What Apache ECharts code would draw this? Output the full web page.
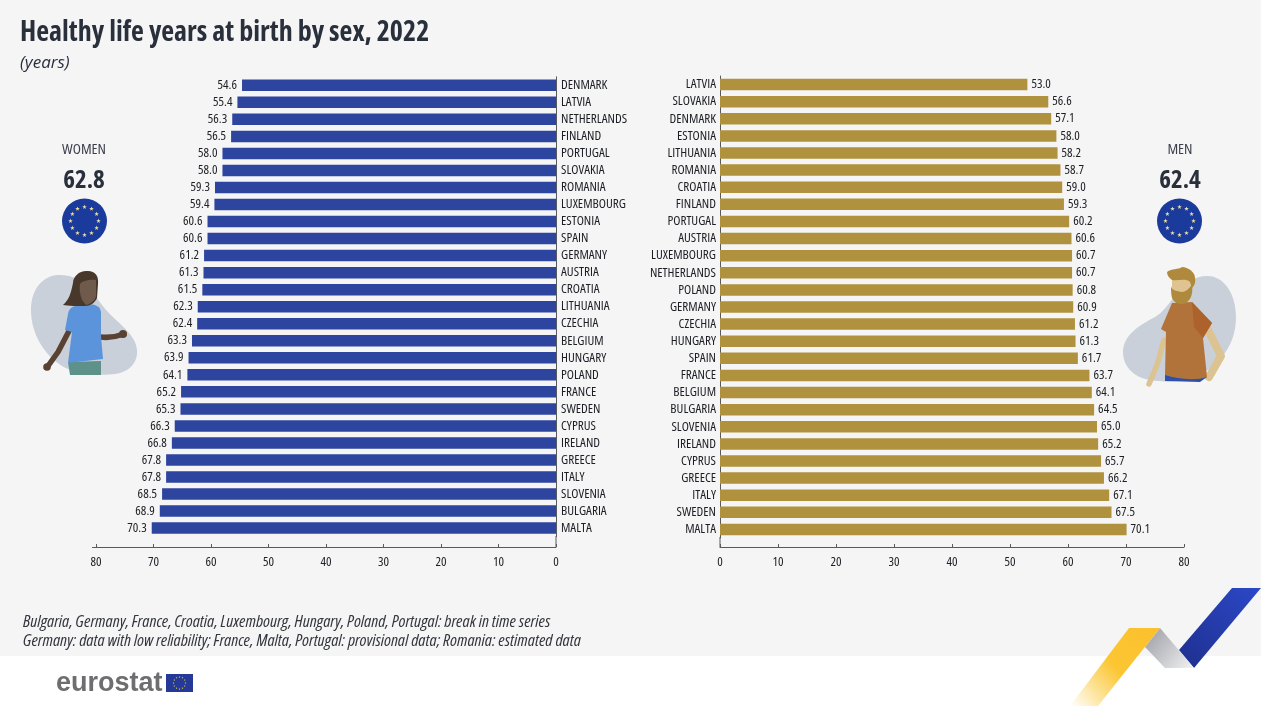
<!DOCTYPE html>
<html>
<head>
<meta charset="utf-8">
<title>Healthy life years at birth by sex, 2022</title>
<script src="https://cdn.jsdelivr.net/npm/echarts@6/dist/echarts.min.js"></script>
<style>
  html, body { margin: 0; padding: 0; background: #f5f5f6; }
  #chart { width: 1261px; height: 706px; }
</style>
</head>
<body>
<div id="chart"></div>
<script>
var womenCountries = ['DENMARK','LATVIA','NETHERLANDS','FINLAND','PORTUGAL','SLOVAKIA','ROMANIA','LUXEMBOURG','ESTONIA','SPAIN','GERMANY','AUSTRIA','CROATIA','LITHUANIA','CZECHIA','BELGIUM','HUNGARY','POLAND','FRANCE','SWEDEN','CYPRUS','IRELAND','GREECE','ITALY','SLOVENIA','BULGARIA','MALTA'];
var womenValues = [54.6,55.4,56.3,56.5,58.0,58.0,59.3,59.4,60.6,60.6,61.2,61.3,61.5,62.3,62.4,63.3,63.9,64.1,65.2,65.3,66.3,66.8,67.8,67.8,68.5,68.9,70.3];
var menCountries = ['LATVIA','SLOVAKIA','DENMARK','ESTONIA','LITHUANIA','ROMANIA','CROATIA','FINLAND','PORTUGAL','AUSTRIA','LUXEMBOURG','NETHERLANDS','POLAND','GERMANY','CZECHIA','HUNGARY','SPAIN','FRANCE','BELGIUM','BULGARIA','SLOVENIA','IRELAND','CYPRUS','GREECE','ITALY','SWEDEN','MALTA'];
var menValues = [53.0,56.6,57.1,58.0,58.2,58.7,59.0,59.3,60.2,60.6,60.7,60.7,60.8,60.9,61.2,61.3,61.7,63.7,64.1,64.5,65.0,65.2,65.7,66.2,67.1,67.5,70.1];
var axisTicks = [0,10,20,30,40,50,60,70,80];

var FONT = '"Open Sans", sans-serif';
var AXIS_COLOR = '#555a60';
var TEXT_COLOR = '#1d1f24';
var BLOB = '#c9d0da';
var SKIN_W = '#5a4232';
var SKIN_M = '#dcc492';

var chart = echarts.init(document.getElementById('chart'), null, { renderer: 'canvas' });

// EU flag stars, ring of 12
function stars(cx, cy, ringR, starR, color) {
  var out = [];
  for (var i = 0; i < 12; i++) {
    var a = i * Math.PI / 6;
    var sx = cx + ringR * Math.cos(a), sy = cy + ringR * Math.sin(a);
    var pts = [];
    for (var k = 0; k < 10; k++) {
      var r = k % 2 ? starR * 0.4 : starR;
      var t = -Math.PI / 2 + k * Math.PI / 5;
      pts.push([sx + r * Math.cos(t), sy + r * Math.sin(t)]);
    }
    out.push({ type: 'polygon', shape: { points: pts }, style: { fill: color } });
  }
  return out;
}

function txt(x, y, text, size, opts) {
  opts = opts || {};
  return {
    type: 'text', x: x, y: y,
    style: {
      text: text, fill: opts.color || TEXT_COLOR,
      font: (opts.prefix === undefined ? 'condensed' : opts.prefix) + ' ' + size + 'px ' + (opts.family || FONT),
      align: opts.align || 'left', verticalAlign: 'middle'
    }
  };
}

// graphic has no plain path type, so register each outline as a shape
var shapeCount = 0;
function pathType(pathData) {
  var name = 'figure' + (shapeCount++);
  echarts.graphic.registerShape(name, echarts.graphic.extendPath(pathData));
  return name;
}
function shape(pathData, fill) {
  return { type: pathType(pathData), style: { fill: fill } };
}
function limb(pathData, color, w) {
  return { type: pathType(pathData), style: { fill: 'none', stroke: color, lineWidth: w, lineCap: 'round', lineJoin: 'round' } };
}

var graphics = [
  // white footer
  { type: 'rect', shape: { x: 0, y: 656, width: 1261, height: 50 }, style: { fill: '#ffffff' } },
  // ribbon
  { type: 'polygon', shape: { points: [[1232,588],[1261,588],[1194,668],[1179,650]] },
    style: { fill: new echarts.graphic.LinearGradient(1, 0, 0, 1, [{ offset: 0, color: '#2c48c8' }, { offset: 1, color: '#1e2f8e' }]) } },
  { type: 'polygon', shape: { points: [[1160,628],[1194,668],[1165,668],[1145,647]] },
    style: { fill: new echarts.graphic.LinearGradient(0, 0, 1, 1, [{ offset: 0, color: '#9a9ca2' }, { offset: 1, color: '#f2f2f3' }]) } },
  { type: 'polygon', shape: { points: [[1129,628],[1160,628],[1098,706],[1070,706]] },
    style: { fill: new echarts.graphic.LinearGradient(1, 0, 0, 1, [{ offset: 0, color: '#fbc02d' }, { offset: 0.5, color: '#fbc632' }, { offset: 1, color: '#ffffff' }]) } },

  // axis lines run a little past the last row
  { type: 'line', shape: { x1: 556, y1: 536, x2: 556, y2: 547 }, style: { stroke: AXIS_COLOR, lineWidth: 1 } },
  { type: 'line', shape: { x1: 720, y1: 537, x2: 720, y2: 547 }, style: { stroke: AXIS_COLOR, lineWidth: 1 } },

  txt(20, 33, 'Healthy life years at birth by sex, 2022', 28, { prefix: 'bold condensed', color: '#2a2f3c' }),
  txt(20, 63, '(years)', 17, { prefix: 'italic', color: '#2a2f3c' }),
  txt(23, 622, 'Bulgaria, Germany, France, Croatia, Luxembourg, Hungary, Poland, Portugal: break in time series', 17.2, { prefix: 'italic condensed', color: '#33363c' }),
  txt(23, 641, 'Germany: data with low reliability; France, Malta, Portugal: provisional data; Romania: estimated data', 17.2, { prefix: 'italic condensed', color: '#33363c' }),

  txt(84, 150, 'WOMEN', 15, { align: 'center', color: '#3a3f4a' }),
  txt(84, 181, '62.8', 25, { prefix: 'bold condensed', align: 'center', color: '#2a2f3c' }),
  txt(1180, 150, 'MEN', 15, { align: 'center', color: '#3a3f4a' }),
  txt(1180, 181, '62.4', 25, { prefix: 'bold condensed', align: 'center', color: '#2a2f3c' }),

  { type: 'circle', shape: { cx: 84.5, cy: 221, r: 22.5 }, style: { fill: '#1a3a9c' } },
  { type: 'circle', shape: { cx: 1179.5, cy: 221, r: 22.5 }, style: { fill: '#1a3a9c' } },

  // woman
  shape('M57 275 C40 277 31 292 31 310 C31 335 45 355 62 366 C75 374 100 376 115 374 C130 372 138 362 137 350 C136 335 120 325 108 312 C95 298 85 273 57 275 Z', BLOB),
  limb('M69 331 L58 352 L48 366', SKIN_W, 5.5),
  limb('M100 337 C108 338 116 337 124 334', SKIN_W, 5.5),
  { type: 'circle', shape: { cx: 47, cy: 367, r: 3.8 }, style: { fill: SKIN_W } },
  { type: 'circle', shape: { cx: 123, cy: 334, r: 4 }, style: { fill: SKIN_W } },
  shape('M68 362 L101 361 L101 375 L70 375 Z', '#5d9189'),
  shape('M83 304 C72 306 69 308 68 314 L65 330 L72 332 L68 363 L103 359 L101 336 L101 312 C100 306 96 305 90 304 Z', '#5b94da'),
  shape('M73 283 C73 276 80 270 88 271 C95 271 99 276 98 284 L97 298 C95 303 90 306 85 306 C78 306 68 306 63 305 C69 300 71 293 73 283 Z', '#48372b'),
  shape('M80 284 C82 281 90 279 96 280 L96 296 C95 301 90 304 86 305 L82 300 C80 294 79 290 80 284 Z', '#6f5a4b'),

  // man
  shape('M1207 276 C1225 276 1236 295 1236 317 C1236 345 1220 362 1205 372 C1190 382 1170 383 1150 380 C1132 377 1123 365 1123 352 C1123 335 1140 325 1155 317 C1172 308 1180 276 1207 276 Z', BLOB),
  limb('M1164 340 L1157 365 L1149 384', SKIN_M, 5.5),
  limb('M1208 330 L1221 356 L1209 377', SKIN_M, 8),
  shape('M1165 375 L1207 377 L1200 382 L1165 381 Z', '#2d50a8'),
  shape('M1172 303 L1192 302 L1212 323 L1203 338 L1207 377 C1195 381 1178 379 1165 375 L1166 332 L1161 329 Z', '#b2733a'),
  shape('M1192 302 L1212 323 L1203 338 L1194 327 Z', '#ad622b'),
  shape('M1172 279 L1190 279 L1191 294 L1172 294 Z', '#dfc391'),
  shape('M1171 286 C1172 291 1177 291 1182 292 C1186 292 1190 288 1192 284 C1193 292 1192 299 1186 303 C1180 305 1175 304 1172 298 C1171 294 1171 290 1171 286 Z', '#b08a3c'),
  shape('M1167 272 C1172 268 1178 270 1182 267 C1188 267 1195 272 1195 278 C1196 283 1194 286 1192 288 L1190 282 C1186 278 1178 281 1172 280 C1169 278 1167 275 1167 272 Z', '#b08a3c'),

  // eurostat logo
  txt(56, 684, 'eurostat', 27, { prefix: 'bold', color: '#6e6e70', family: '"Liberation Sans", sans-serif' }),
  { type: 'rect', shape: { x: 166, y: 674, width: 27, height: 18 }, style: { fill: '#243a96' } }
]
  .concat(stars(84.5, 221, 14, 2.4, '#e8dca0'))
  .concat(stars(1179.5, 221, 14, 2.4, '#e8dca0'))
  .concat(stars(179.5, 683, 6, 1, '#f2d64b'));

// fontStyle goes straight into the canvas font string, that is how we get the condensed face
var labelFont = { fontFamily: FONT, fontStyle: 'condensed', fontSize: 13, color: TEXT_COLOR };

function withFont(extra) {
  return Object.assign({}, labelFont, extra);
}

var option = {
  backgroundColor: '#f5f5f6',
  animation: false,
  graphic: graphics,
  grid: [
    { left: 92.5, right: 705, top: 76.8, height: 459.8 },
    { left: 720, width: 464, top: 76, height: 462 }
  ],
  xAxis: [
    {
      gridIndex: 0, type: 'value', inverse: true, min: 0, max: 80.6,
      position: 'bottom', offset: 10.4,
      splitLine: { show: false },
      axisLine: { show: true, lineStyle: { color: AXIS_COLOR } },
      axisTick: { show: true, inside: true, length: 3, lineStyle: { color: AXIS_COLOR }, customValues: axisTicks },
      axisLabel: withFont({ margin: 9, customValues: axisTicks })
    },
    {
      gridIndex: 1, type: 'value', min: 0, max: 80, interval: 10,
      position: 'bottom', offset: 9,
      splitLine: { show: false },
      axisLine: { show: true, lineStyle: { color: AXIS_COLOR } },
      axisTick: { show: true, inside: true, length: 3, lineStyle: { color: AXIS_COLOR } },
      axisLabel: withFont({ margin: 9 })
    }
  ],
  yAxis: [
    {
      gridIndex: 0, type: 'category', inverse: true, data: womenCountries, position: 'right',
      axisLine: { show: true, onZero: false, lineStyle: { color: AXIS_COLOR } },
      axisTick: { show: false },
      axisLabel: withFont({ margin: 5, interval: 0, fontSize: 13.2, padding: [2, 0, 0, 0] })
    },
    {
      gridIndex: 1, type: 'category', inverse: true, data: menCountries, position: 'left',
      axisLine: { show: true, onZero: false, lineStyle: { color: AXIS_COLOR } },
      axisTick: { show: false },
      axisLabel: withFont({ margin: 4, interval: 0, fontSize: 13.2 })
    }
  ],
  series: [
    {
      name: 'Women', type: 'bar', xAxisIndex: 0, yAxisIndex: 0, data: womenValues, barWidth: 11.5,
      itemStyle: { color: '#2e45a0' },
      label: withFont({
        show: true, position: 'left', distance: 5,
        formatter: function (p) { return p.value.toFixed(1); }
      })
    },
    {
      name: 'Men', type: 'bar', xAxisIndex: 1, yAxisIndex: 1, data: menValues, barWidth: 11.5,
      itemStyle: { color: '#b0913d' },
      label: withFont({
        show: true, position: 'right', distance: 4,
        formatter: function (p) { return p.value.toFixed(1); }
      })
    }
  ]
};
chart.setOption(option);
</script>
</body>
</html>
